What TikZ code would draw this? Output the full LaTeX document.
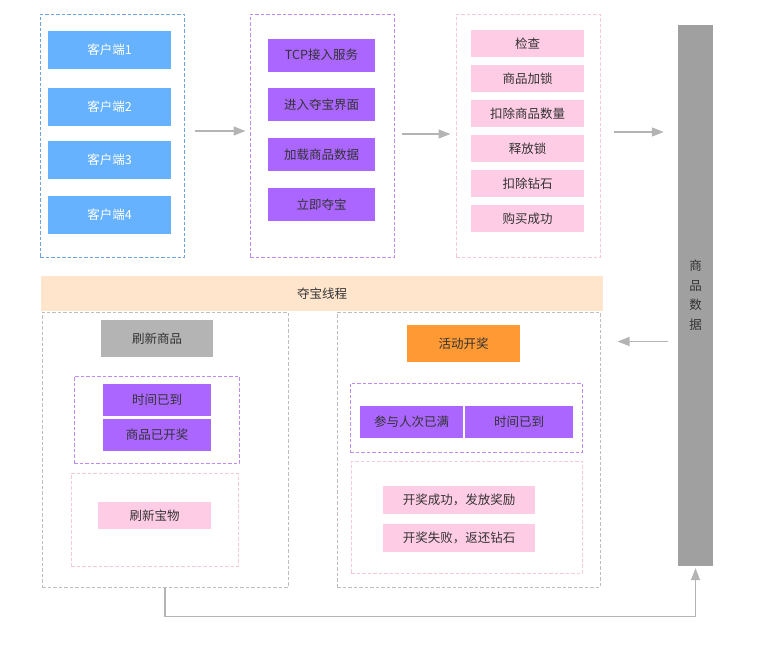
\documentclass[tikz,border=0pt]{standalone}
\usepackage{fontspec}
\newfontfamily\cjk{Noto Sans CJK SC}
\definecolor{dbblue}{RGB}{102,178,255}
\definecolor{dbblueline}{RGB}{110,165,225}
\definecolor{dbpurple}{RGB}{170,102,255}
\definecolor{dbpurpleline}{RGB}{190,140,240}
\definecolor{dbpink}{RGB}{255,204,230}
\definecolor{dbpinkline}{RGB}{245,200,218}
\definecolor{dbgrey}{RGB}{160,160,160}
\definecolor{dbgreybox}{RGB}{180,180,180}
\definecolor{dbgreyline}{RGB}{190,190,190}
\definecolor{dbband}{RGB}{255,229,204}
\definecolor{dborange}{RGB}{255,153,51}
\definecolor{dbtext}{RGB}{51,51,51}
\definecolor{dbarrow}{RGB}{180,180,180}
\usepackage{tikz}
\usetikzlibrary{arrows.meta, positioning}
\tikzset{
  blk/.style={rectangle, fill=#1, inner sep=0pt, text=dbtext,
              font=\cjk\fontsize{12.5}{15}\selectfont},
  grp/.style={rectangle, draw=#1, line width=1pt, dash pattern=on 3.5pt off 2pt,
              inner sep=0pt},
  flow/.style={-{Triangle[length=12pt,width=9pt]}, line width=1.5pt, color=dbarrow},
}

\begin{document}
\begin{tikzpicture}[x=1pt, y=-1pt]
  \useasboundingbox (0,0) rectangle (761,654);
  % top row containers
  \node[grp=dbblueline, minimum width=144pt, minimum height=243pt] (grp1) at (112,135.5) {};
  \node[grp=dbpurpleline, minimum width=144pt, minimum height=243pt] (grp2) at (322,135.5) {};
  \node[grp=dbpinkline, minimum width=144pt, minimum height=243pt] (grp3) at (528,135.5) {};
  % clients
  \foreach \i/\y in {1/49.5,2/107,3/160,4/215}{
    \node[blk=dbblue, text=white, minimum width=123pt, minimum height=38pt] (cli\i) at (109.5,\y) {客户端\i};
  }
  % service steps
  \foreach \i/\y/\lbl in {1/55/TCP接入服务, 2/104.5/进入夺宝界面, 3/154.5/加载商品数据, 4/204.5/立即夺宝}{
    \node[blk=dbpurple, minimum width=107pt, minimum height=33pt] (svc\i) at (321.5,\y) {\lbl};
  }
  % purchase steps
  \foreach \i/\y/\lbl in {1/43.5/检查, 2/78.5/商品加锁, 3/113.5/扣除商品数量, 4/148.5/释放锁, 5/183.5/扣除钻石, 6/218.5/购买成功}{
    \node[blk=dbpink, minimum width=113pt, minimum height=27pt] (buy\i) at (527.5,\y) {\lbl};
  }
  % goods data bar
  \node[blk=dbgrey, minimum width=35pt, minimum height=541pt] (bar) at (695.5,295.5) {};
  \node[font=\cjk\fontsize{12.5}{19.5}\selectfont, text=dbtext, align=center] (bartxt) at (695.5,295) {商\\品\\数\\据};
  % treasure thread
  \node[blk=dbband, minimum width=562pt, minimum height=35pt] (band) at (322,293.5) {夺宝线程};
  \node[grp=dbgreyline, minimum width=246pt, minimum height=275pt] (left) at (165,449.5) {};
  \node[grp=dbgreyline, minimum width=263pt, minimum height=275pt] (right) at (468.5,449.5) {};
  % left part
  \node[blk=dbgreybox, minimum width=112pt, minimum height=37pt] (refresh) at (157,338.5) {刷新商品};
  \node[grp=dbpurpleline, minimum width=165pt, minimum height=87pt] (lcond) at (156.5,419.5) {};
  \node[blk=dbpurple, minimum width=108pt, minimum height=32pt] (ltime) at (157,400) {时间已到};
  \node[blk=dbpurple, minimum width=108pt, minimum height=32pt] (lopen) at (157,435) {商品已开奖};
  \node[grp=dbpinkline, minimum width=167pt, minimum height=93pt] (lres) at (154.5,519.5) {};
  \node[blk=dbpink, minimum width=113pt, minimum height=27pt] (treasure) at (154.5,515.5) {刷新宝物};
  % right part
  \node[blk=dborange, minimum width=113pt, minimum height=37pt] (act) at (463.5,343.5) {活动开奖};
  \node[grp=dbpurpleline, minimum width=232pt, minimum height=69pt] (rcond) at (466,417.5) {};
  \node[blk=dbpurple, minimum width=103pt, minimum height=32pt] (rfull) at (411.5,422) {参与人次已满};
  \node[blk=dbpurple, minimum width=108pt, minimum height=32pt] (rtime) at (519,422) {时间已到};
  \node[grp=dbpinkline, minimum width=231pt, minimum height=112pt] (rres) at (466.5,517) {};
  \node[blk=dbpink, minimum width=152pt, minimum height=28pt] (rok) at (459,500) {开奖成功，发放奖励};
  \node[blk=dbpink, minimum width=152pt, minimum height=28pt] (rfail) at (459,538) {开奖失败，返还钻石};
  % connectors
  \draw[flow, shorten <=10pt, shorten >=4pt] ([yshift=4.5pt]grp1.east) -- ([yshift=4.5pt]grp2.west);
  \draw[flow, shorten <=7pt, shorten >=5pt] ([yshift=1.5pt]grp2.east) -- ([yshift=1.5pt]grp3.west);
  \draw[flow, shorten <=13pt, shorten >=14pt] ([yshift=3.5pt]grp3.east) -- ([yshift=3.5pt]bar.west |- grp3.east);
  \draw[flow, shorten <=10pt, shorten >=17pt] ([yshift=2pt]bar.west |- act.east) -- ([yshift=2pt]right.east |- act.east);
  \draw[flow, shorten >=2pt] (left.south) -- ++(0,29) -| (bar.south);
\end{tikzpicture}
\end{document}
